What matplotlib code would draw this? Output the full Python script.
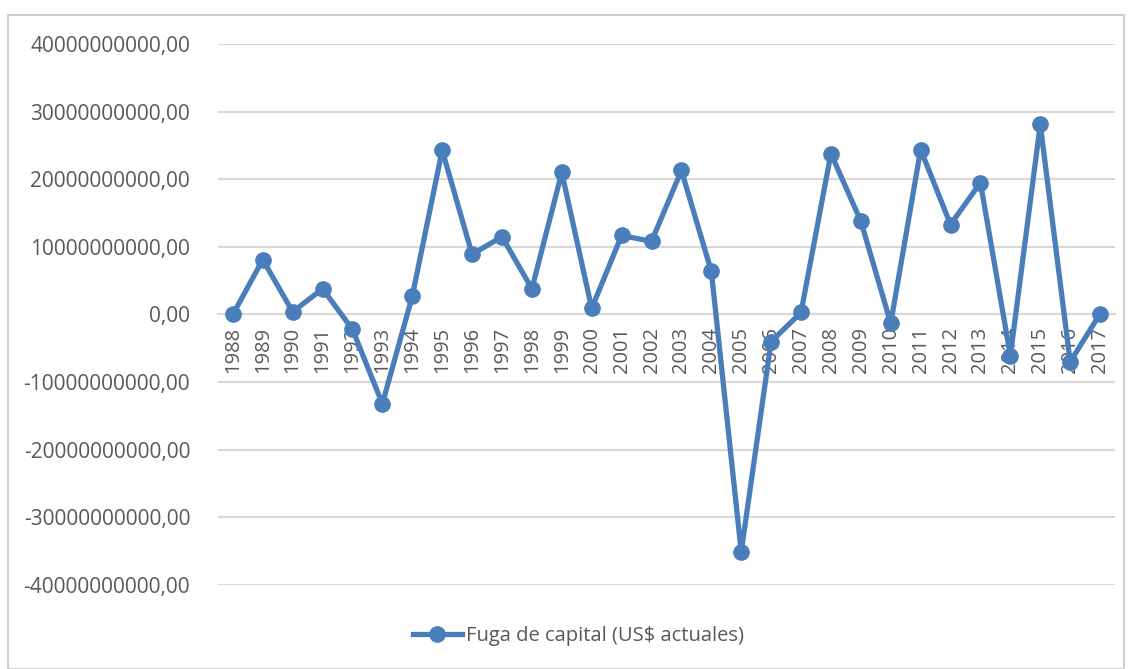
import matplotlib as mpl
mpl.use('Agg')
import matplotlib.pyplot as plt
import numpy as np
from matplotlib.patches import Rectangle

# datos (USD)
years = list(range(1988, 2018))
fuga = [0.0, 8.1, 0.4, 3.8, -2.2, -13.2, 2.7, 24.3, 8.9, 11.5,
        3.8, 21.0, 0.9, 11.7, 10.8, 21.3, 6.4, -35.1, -4.0, 0.3,
        23.8, 13.8, -1.3, 24.4, 13.3, 19.5, -6.1, 28.1, -7.0, 0.1]
fuga = [v * 1e9 for v in fuga]
yticks = [-40e9, -30e9, -20e9, -10e9, 0, 10e9, 20e9, 30e9, 40e9]

blue = '#4a7ebb'
grid = '#d9d9d9'
txt = '#595959'
mpl.rc('font', family='Open Sans', size=14.5)

fig = plt.figure(figsize=(11.32, 6.69), dpi=100)
ax = fig.add_axes([0.1925, 0.1256, 0.7925, 0.8086])

x = np.arange(len(years))
ax.plot(x, fuga, color=blue, lw=3.8, marker='o', ms=11,
        label='Fuga de capital (US$ actuales)', zorder=3, clip_on=False)

# eje x cruzando en 0 (antes de poner las etiquetas, set_position las resetea)
ax.spines['bottom'].set_position(('data', 0))
ax.spines['bottom'].set_color(grid)
ax.spines['bottom'].set_linewidth(1.5)
for s in ['left', 'right', 'top']:
    ax.spines[s].set_visible(False)

ax.set_xlim(-0.5, len(years) - 0.5)
ax.set_ylim(-40e9, 40e9)
ax.set_yticks(yticks)
ax.set_yticklabels([('%.2f' % v).replace('.', ',') for v in yticks])
ax.yaxis.grid(True, color=grid, lw=1.5)
ax.set_axisbelow(True)

ax.set_xticks(x)
ax.set_xticklabels([str(y) for y in years])
ax.tick_params(axis='x', length=0, pad=9, colors=txt, labelsize=14.5,
               labelrotation=90)
ax.tick_params(axis='y', length=0, pad=20, colors=txt, labelsize=15)

leg = fig.legend(loc='center', bbox_to_anchor=(0.511, 0.05), frameon=False,
                 handlelength=2.4, handletextpad=0.2, labelcolor=txt)

# marco exterior
fig.patches.append(Rectangle((8 / 1132, 0), 1 - 16 / 1132, 1 - 15 / 669,
                             transform=fig.transFigure, fill=False,
                             edgecolor='#d0d0d0', lw=1.5))

fig.savefig('out.png', dpi=100)
